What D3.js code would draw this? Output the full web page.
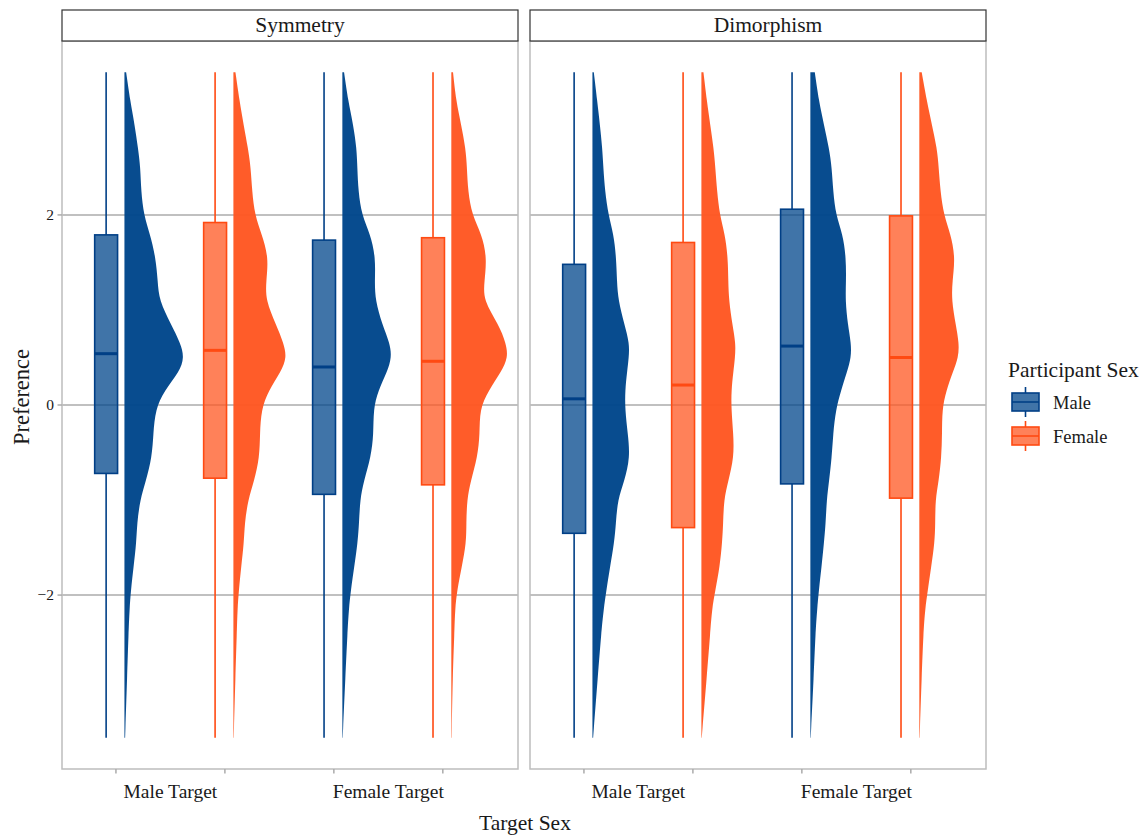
<!DOCTYPE html>
<html>
<head>
<meta charset="utf-8">
<script src="https://cdn.jsdelivr.net/npm/d3@7"></script>
<style>
  html, body { margin: 0; padding: 0; background: #ffffff; }
  svg text { font-family: "Liberation Serif", "Times New Roman", serif; fill: #1a1a1a; }
</style>
</head>
<body>
<svg id="chart" width="1145" height="837"></svg>
<script>
// ---------------- data ----------------
const panels = ["Symmetry", "Dimorphism"];
const targets = ["Male Target", "Female Target"];
const participants = ["Male", "Female"];
const yTicks = [-2, 0, 2];

// order of groups: Symmetry/Male Target/Male, Symmetry/Male Target/Female,
// Symmetry/Female Target/Male, Symmetry/Female Target/Female, then same for Dimorphism
const whiskerLow  = [-3.5, -3.5, -3.5, -3.5, -3.5, -3.5, -3.5, -3.5];
const boxQ1       = [-0.72, -0.77, -0.94, -0.84, -1.35, -1.29, -0.83, -0.98];
const boxMedian   = [0.54, 0.575, 0.40, 0.46, 0.065, 0.21, 0.62, 0.50];
const boxQ3       = [1.79, 1.92, 1.735, 1.76, 1.48, 1.71, 2.06, 1.99];
const whiskerHigh = [3.5, 3.5, 3.5, 3.5, 3.5, 3.5, 3.5, 3.5];

// y values at which the (relative) kernel density of each group is read
const densityGrid = [3.5, 3.2, 2.95, 2.7, 2.5, 2.25, 2.0, 1.8, 1.55, 1.3, 1.1, 0.85, 0.65, 0.5, 0.35, 0.15,
  -0.05, -0.3, -0.55, -0.8, -1.0, -1.25, -1.45, -1.7, -1.95, -2.15, -2.4, -2.85, -3.5];
// relative density (arbitrary units)
const densSymMaleTMale     = [5,17,30,40,47,49,57,75,92,98,102,137,165,176,162,117,91,85,81,63,46,37,35,27,19,15,12,8,2];
const densSymMaleTFemale   = [6,18,30,43,51,55,63,83,104,96,95,125,148,157,140,103,82,78,77,61,43,33,31,23,16,12,10,6,1];
const densSymFemaleTMale   = [5,17,32,42,44,47,57,82,98,95,97,117,140,145,132,105,91,92,84,63,52,49,45,35,25,19,15,9,1];
const densSymFemaleTFemale = [5,14,29,42,46,49,61,89,105,97,94,139,161,167,147,109,83,84,77,57,46,44,44,31,17,11,9,4,1];
const densDimMaleTMale     = [4,14,22,29,32,37,47,62,70,72,76,94,109,107,102,96,96,104,111,94,74,69,64,52,41,33,26,16,2];
const densDimMaleTFemale   = [6,16,26,36,41,46,54,69,78,79,81,91,101,99,94,88,88,94,96,79,66,64,61,54,41,31,26,16,1];
const densDimFemaleTMale   = [13,25,40,55,63,67,75,95,105,105,103,110,120,120,108,90,75,67,63,55,48,45,40,33,25,20,15,10,1];
const densDimFemaleTFemale = [7,22,37,52,57,62,72,92,106,97,95,107,117,115,99,79,67,67,65,57,47,47,45,35,25,17,12,7,1];
const densities = [densSymMaleTMale, densSymMaleTFemale, densSymFemaleTMale, densSymFemaleTFemale,
                   densDimMaleTMale, densDimMaleTFemale, densDimFemaleTMale, densDimFemaleTFemale];

// ---------------- styles ----------------
const violinFill = { Male: "#00468B", Female: "#FF5722" };
const boxStroke  = { Male: "#003F86", Female: "#FF4A12" };
const boxFillOpacity = 0.75;

// ---------------- layout ----------------
const svg = d3.select("#chart");
const panelLeft = [62, 530];
const panelW = 456;
const panelTop = 41, panelBottom = 769;
const stripTop = 10;

const y = d3.scaleLinear().domain([-3.83, 3.83]).range([panelBottom, panelTop]);
const x = d3.scaleLinear().domain([0.505, 4.69]).range([0, panelW]);
const densW = d3.scaleLinear().domain([0, 175]).range([0, 59.5]);

const boxOffset = -0.09, boxHalf = 0.105, violinOffset = 0.078;

panels.forEach((pname, p) => {
  const g = svg.append("g").attr("transform", `translate(${panelLeft[p]},0)`);
  // panel background
  g.append("rect").attr("x", 0).attr("y", panelTop).attr("width", panelW)
    .attr("height", panelBottom - panelTop).attr("fill", "#ffffff");
  // grid lines
  g.selectAll(".grid").data(yTicks).enter().append("line")
    .attr("x1", 0).attr("x2", panelW)
    .attr("y1", d => y(d)).attr("y2", d => y(d))
    .attr("stroke", "#ABABAB").attr("stroke-width", 1.5);

  targets.forEach((tname, t) => {
    participants.forEach((sname, s) => {
      const i = p * 4 + t * 2 + s;
      const pos = 1 + t * 2 + s;
      // half violin
      const pts = densityGrid.map((yy, k) => ({ y: yy, d: densities[i][k] }));
      const base = x(pos + violinOffset);
      const area = d3.area()
        .y(d => y(d.y))
        .x0(base)
        .x1(d => base + densW(d.d))
        .curve(d3.curveBasis);
      g.append("path").datum(pts).attr("d", area)
        .attr("fill", violinFill[sname]).attr("fill-opacity", 0.97);

      // box plot
      const cx = x(pos + boxOffset);
      const bl = x(pos + boxOffset - boxHalf), br = x(pos + boxOffset + boxHalf);
      g.append("line").attr("x1", cx).attr("x2", cx)
        .attr("y1", y(whiskerHigh[i])).attr("y2", y(boxQ3[i]))
        .attr("stroke", boxStroke[sname]).attr("stroke-width", 1.6);
      g.append("line").attr("x1", cx).attr("x2", cx)
        .attr("y1", y(boxQ1[i])).attr("y2", y(whiskerLow[i]))
        .attr("stroke", boxStroke[sname]).attr("stroke-width", 1.6);
      g.append("rect").attr("x", bl).attr("width", br - bl)
        .attr("y", y(boxQ3[i])).attr("height", y(boxQ1[i]) - y(boxQ3[i]))
        .attr("fill", violinFill[sname]).attr("fill-opacity", boxFillOpacity)
        .attr("stroke", boxStroke[sname]).attr("stroke-width", 1.6);
      g.append("line").attr("x1", bl).attr("x2", br)
        .attr("y1", y(boxMedian[i])).attr("y2", y(boxMedian[i]))
        .attr("stroke", boxStroke[sname]).attr("stroke-width", 3);
    });
  });

  // panel border
  g.append("rect").attr("x", 0).attr("y", panelTop).attr("width", panelW)
    .attr("height", panelBottom - panelTop).attr("fill", "none")
    .attr("stroke", "#BDBDBD").attr("stroke-width", 1.5);

  // strip
  g.append("rect").attr("x", 0).attr("y", stripTop).attr("width", panelW)
    .attr("height", panelTop - stripTop).attr("fill", "#ffffff")
    .attr("stroke", "#333333").attr("stroke-width", 1.2);
  g.append("text").attr("x", panelW / 2 + 10).attr("y", 32)
    .attr("text-anchor", "middle").attr("font-size", "21.5px").text(pname);

  // x axis ticks and labels
  const tickPos = [1, 2, 3, 4];
  g.selectAll(".xt").data(tickPos).enter().append("line")
    .attr("x1", d => x(d)).attr("x2", d => x(d))
    .attr("y1", panelBottom).attr("y2", panelBottom + 4.5)
    .attr("stroke", "#ABABAB").attr("stroke-width", 1.5);
  g.selectAll(".xl").data(targets).enter().append("text")
    .attr("x", (d, k) => x(1.5 + 2 * k)).attr("y", 798)
    .attr("text-anchor", "middle").attr("font-size", "19.5px").text(d => d);

  // y axis on first panel
  if (p === 0) {
    g.selectAll(".yt").data(yTicks).enter().append("line")
      .attr("x1", -4.5).attr("x2", 0)
      .attr("y1", d => y(d)).attr("y2", d => y(d))
      .attr("stroke", "#ABABAB").attr("stroke-width", 1.5);
    g.selectAll(".yl").data(yTicks).enter().append("text")
      .attr("x", -8).attr("y", d => y(d)).attr("dy", "0.34em")
      .attr("text-anchor", "end").attr("font-size", "15.5px")
      .text(d => d < 0 ? "\u2212" + Math.abs(d) : String(d));
  }
});

// axis titles
svg.append("text").attr("transform", "translate(29,397) rotate(-90)")
  .attr("text-anchor", "middle").attr("font-size", "22.5px").text("Preference");
svg.append("text").attr("x", 525).attr("y", 830)
  .attr("text-anchor", "middle").attr("font-size", "21.5px").text("Target Sex");

// legend
const lg = svg.append("g");
lg.append("text").attr("x", 1008).attr("y", 377).attr("font-size", "21.5px").text("Participant Sex");
participants.forEach((sname, k) => {
  const top = 393 + k * 34, h = 18, l = 1012, w = 27;
  const cx = l + w / 2;
  lg.append("line").attr("x1", cx).attr("x2", cx).attr("y1", top - 6).attr("y2", top + h + 6)
    .attr("stroke", boxStroke[sname]).attr("stroke-width", 1.6);
  lg.append("rect").attr("x", l).attr("y", top).attr("width", w).attr("height", h)
    .attr("fill", "#ffffff");
  lg.append("rect").attr("x", l).attr("y", top).attr("width", w).attr("height", h)
    .attr("fill", violinFill[sname]).attr("fill-opacity", boxFillOpacity)
    .attr("stroke", boxStroke[sname]).attr("stroke-width", 1.6);
  lg.append("line").attr("x1", l).attr("x2", l + w).attr("y1", top + h / 2).attr("y2", top + h / 2)
    .attr("stroke", boxStroke[sname]).attr("stroke-width", 1.6);
  lg.append("text").attr("x", 1053).attr("y", top + h / 2).attr("dy", "0.36em")
    .attr("font-size", "18.5px").text(sname);
});
</script>
</body>
</html>
